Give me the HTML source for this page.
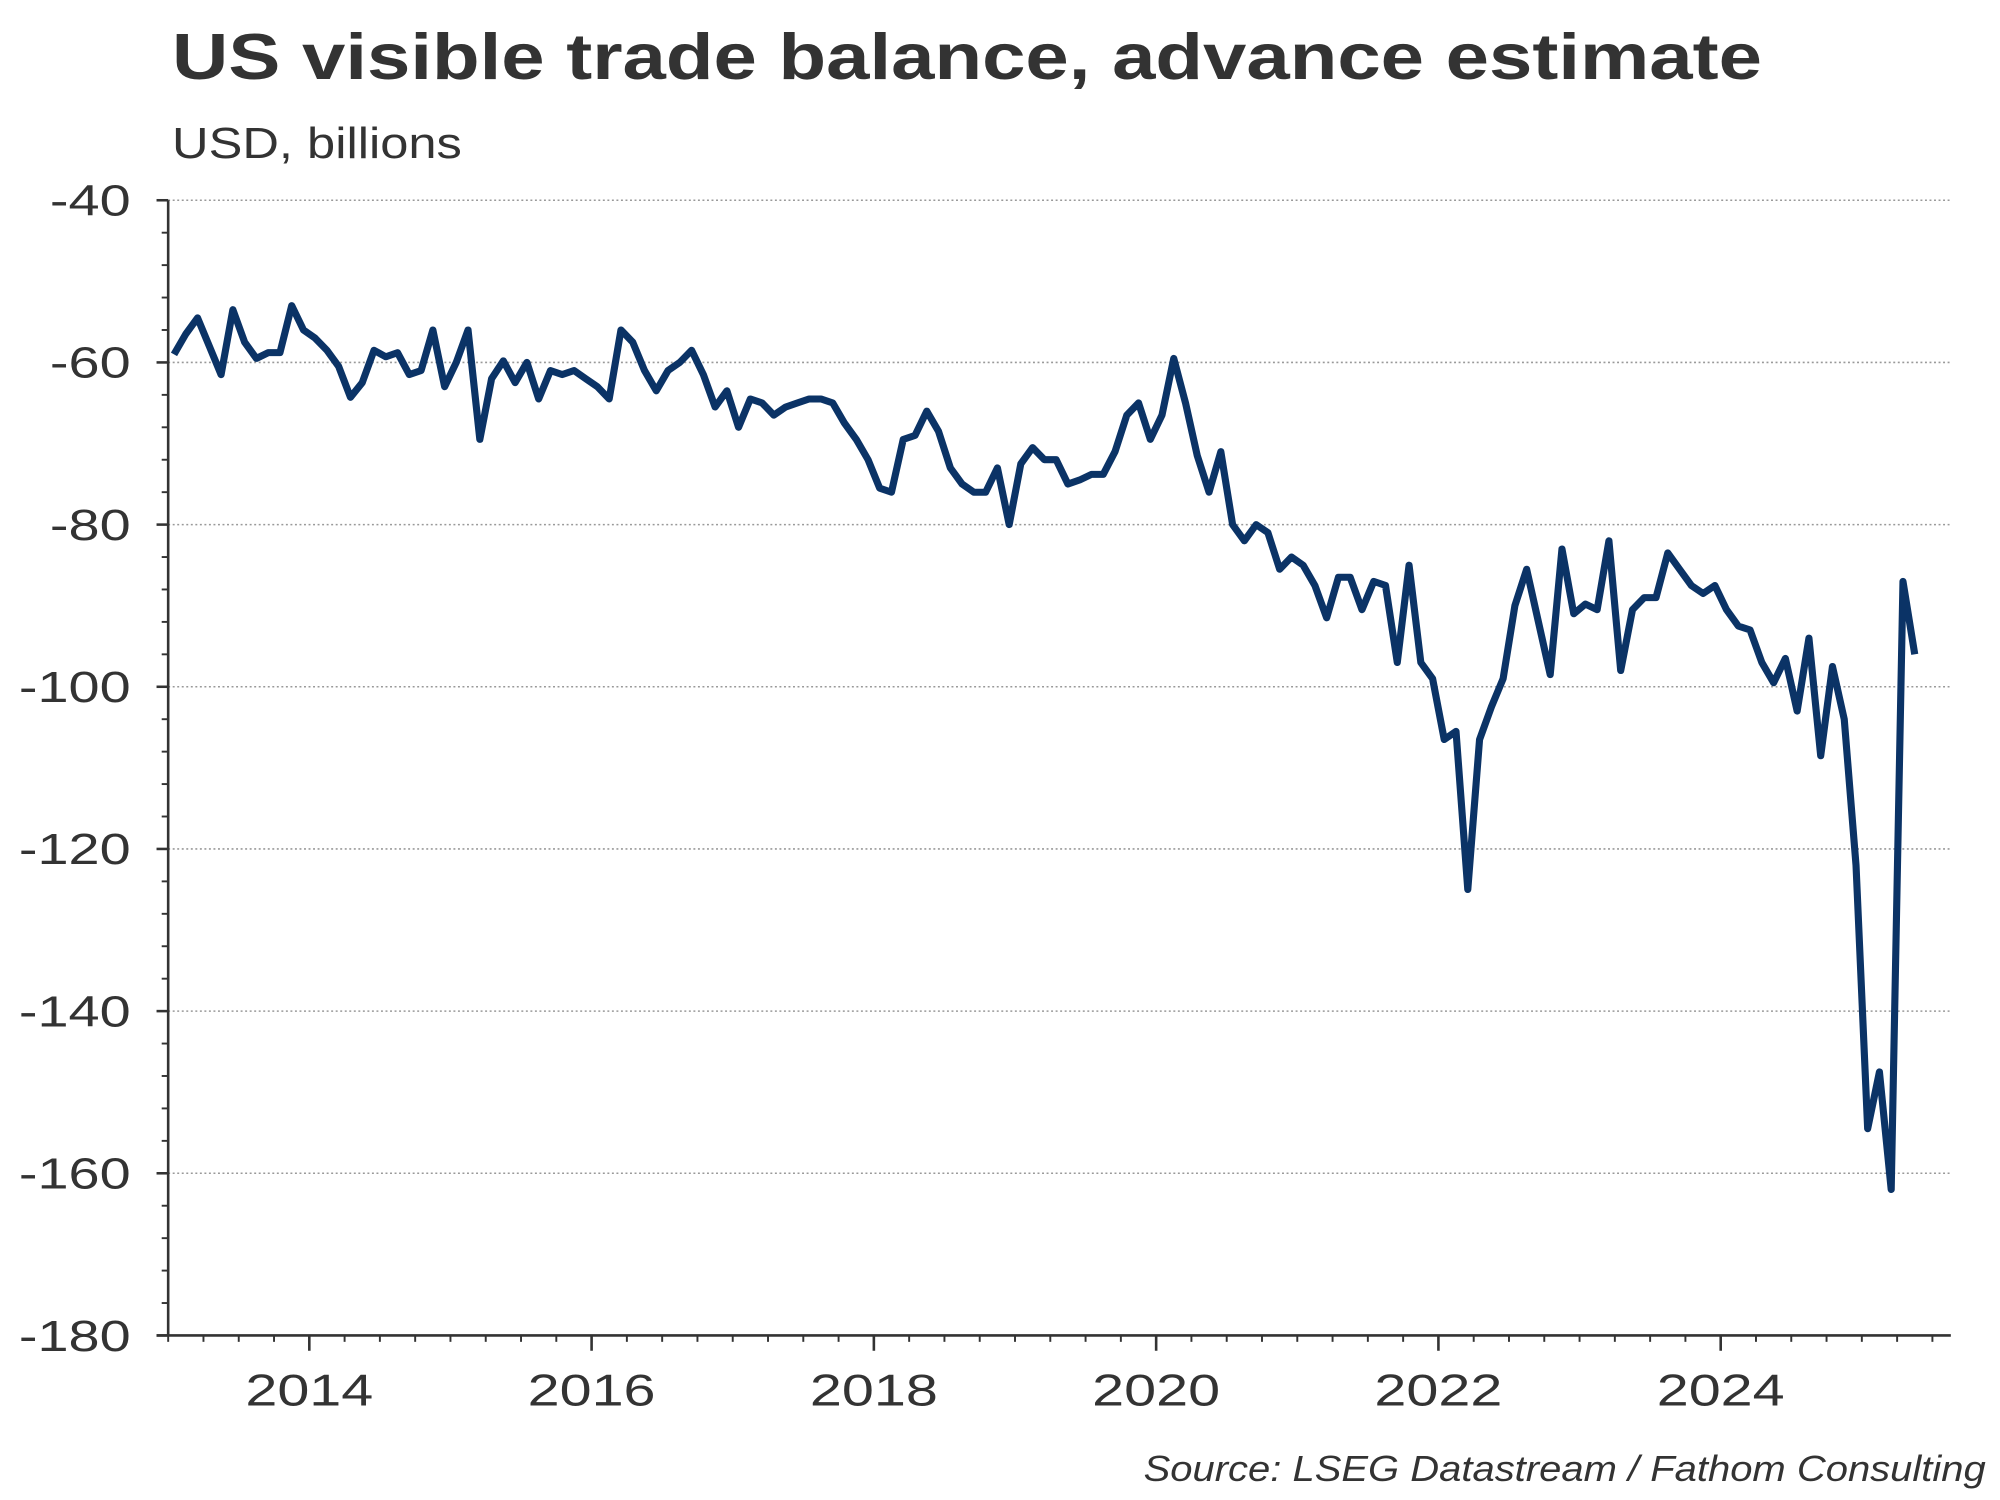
<!DOCTYPE html>
<html><head><meta charset="utf-8">
<style>
html,body{margin:0;padding:0;background:#fff;}
svg{display:block;}
text{font-family:"Liberation Sans",Arial,sans-serif;fill:#333;}
</style></head>
<body>
<svg id="chart" width="2000" height="1500" viewBox="0 0 1546 1176" preserveAspectRatio="none" xmlns="http://www.w3.org/2000/svg">
<text x="133" y="62" font-size="51" font-weight="bold" textLength="1229" lengthAdjust="spacingAndGlyphs">US visible trade balance, advance estimate</text>
<text x="133" y="124" font-size="34" textLength="224" lengthAdjust="spacingAndGlyphs">USD, billions</text>
<g id="grid"></g>
<g id="axes"></g>
<g id="series"></g>
<text x="884" y="1161" font-size="28" font-style="italic" fill="#3d4a52" textLength="651" lengthAdjust="spacingAndGlyphs">Source: LSEG Datastream / Fathom Consulting</text>
</svg>
<script>
const startYear = 2013;
const yTicks = [-40,-60,-80,-100,-120,-140,-160,-180];
const xTickYears = [2014,2016,2018,2020,2022,2024];
const v2013 = [-59,-56.5,-54.5,-58,-61.5,-53.5,-57.5,-59.5,-58.8,-58.8,-53,-56];
const v2014 = [-57,-58.5,-60.5,-64.3,-62.5,-58.5,-59.3,-58.8,-61.5,-61,-56,-63];
const v2015 = [-60,-56,-69.5,-62,-59.8,-62.5,-60,-64.5,-61,-61.5,-61,-62];
const v2016 = [-63,-64.5,-56,-57.5,-61,-63.5,-61,-60,-58.5,-61.5,-65.5,-63.5];
const v2017 = [-68,-64.5,-65,-66.5,-65.5,-65,-64.5,-64.5,-65,-67.5,-69.5,-72];
const v2018 = [-75.5,-76,-69.5,-69,-66,-68.5,-73,-75,-76,-76,-73,-80];
const v2019 = [-72.5,-70.5,-72,-72,-75,-74.5,-73.8,-73.8,-71,-66.5,-65,-69.5];
const v2020 = [-66.5,-59.5,-65,-71.5,-76,-71,-80,-82,-80,-81,-85.5,-84];
const v2021 = [-85,-87.5,-91.5,-86.5,-86.5,-90.5,-87,-87.5,-97,-85,-97,-99];
const v2022 = [-106.5,-105.5,-125,-106.5,-102.5,-99,-90,-85.5,-92,-98.5,-83,-91];
const v2023 = [-89.8,-90.5,-82,-98,-90.5,-89,-89,-83.5,-85.5,-87.5,-88.5,-87.5];
const v2024 = [-90.5,-92.5,-93,-97,-99.5,-96.5,-103,-94,-108.5,-97.5,-104,-122];
const v2025 = [-154.5,-147.5,-162,-87,-96];
const values = [].concat(v2013,v2014,v2015,v2016,v2017,v2018,v2019,v2020,v2021,v2022,v2023,v2024,v2025);

const X0=130, X1=1508, YEARPX=109.1, Y0=157, Y1=1047, VMAX=-40, VMIN=-180;
const STRETCH=1.27;
const xMonth = i => X0 + (i+0.5)/12*YEARPX;
const xYear = y => X0 + (y-startYear)*YEARPX;
const yScale = v => Y0 + (VMAX - v)/(VMAX - VMIN)*(Y1-Y0);
const NS="http://www.w3.org/2000/svg";
function mk(tag, attrs, parent){const e=document.createElementNS(NS,tag);for(const k in attrs)e.setAttribute(k,attrs[k]);parent.appendChild(e);return e;}
function stretch(t){const w=t.getComputedTextLength();t.setAttribute('textLength',(w*STRETCH).toFixed(1));t.setAttribute('lengthAdjust','spacingAndGlyphs');}
const grid=document.getElementById('grid'), axes=document.getElementById('axes'), series=document.getElementById('series');

yTicks.forEach(t=>{
  const y=yScale(t);
  if(t!==VMIN){
    const g=mk('line',{x1:X0,x2:X1,y1:y,y2:y,stroke:'#999','stroke-width':1.2,'stroke-dasharray':'1.5 2'},grid);
    
    
  }
  const tk=mk('line',{x1:X0-9,x2:X0,y1:y,y2:y,stroke:'#333','stroke-width':2},axes);
  
  
  const lb=mk('text',{x:101,y:y+12,'font-size':34,'text-anchor':'end'},axes);
  lb.textContent=t;
  
  
  stretch(lb);
});
for(let v=VMAX; v>VMIN; v-=4){
  if((v-VMAX)%20===0) continue;
  const y=yScale(v);
  const m=mk('line',{x1:X0-5,x2:X0,y1:y,y2:y,stroke:'#333','stroke-width':1.5},axes);
  
  
}
const ya=mk('line',{x1:X0,x2:X0,y1:Y0,y2:Y1,stroke:'#333','stroke-width':2},axes);


const xa=mk('line',{x1:X0-9,x2:X1,y1:Y1,y2:Y1,stroke:'#333','stroke-width':2},axes);


for(let q=0; X0+q*YEARPX/4<=X1; q++){
  const x=X0+q*YEARPX/4;
  const m=mk('line',{x1:x,x2:x,y1:Y1,y2:Y1+5,stroke:'#333','stroke-width':1.5},axes);
  
  
}
xTickYears.forEach(yr=>{
  const x=xYear(yr);
  const t=mk('line',{x1:x,x2:x,y1:Y1,y2:Y1+12,stroke:'#333','stroke-width':2},axes);
  
  
  const l=mk('text',{x:x,y:1102,'font-size':35,'text-anchor':'middle'},axes);
  l.textContent=yr;
  
  
  stretch(l);
});
const d=values.map((v,i)=>(i?'L':'M')+xMonth(i).toFixed(1)+' '+yScale(v).toFixed(1)).join(' ');
const p=mk('path',{d:d,fill:'none',stroke:'#0b3366','stroke-width':5.5,'stroke-linejoin':'round'},series);


</script>
</body></html>
